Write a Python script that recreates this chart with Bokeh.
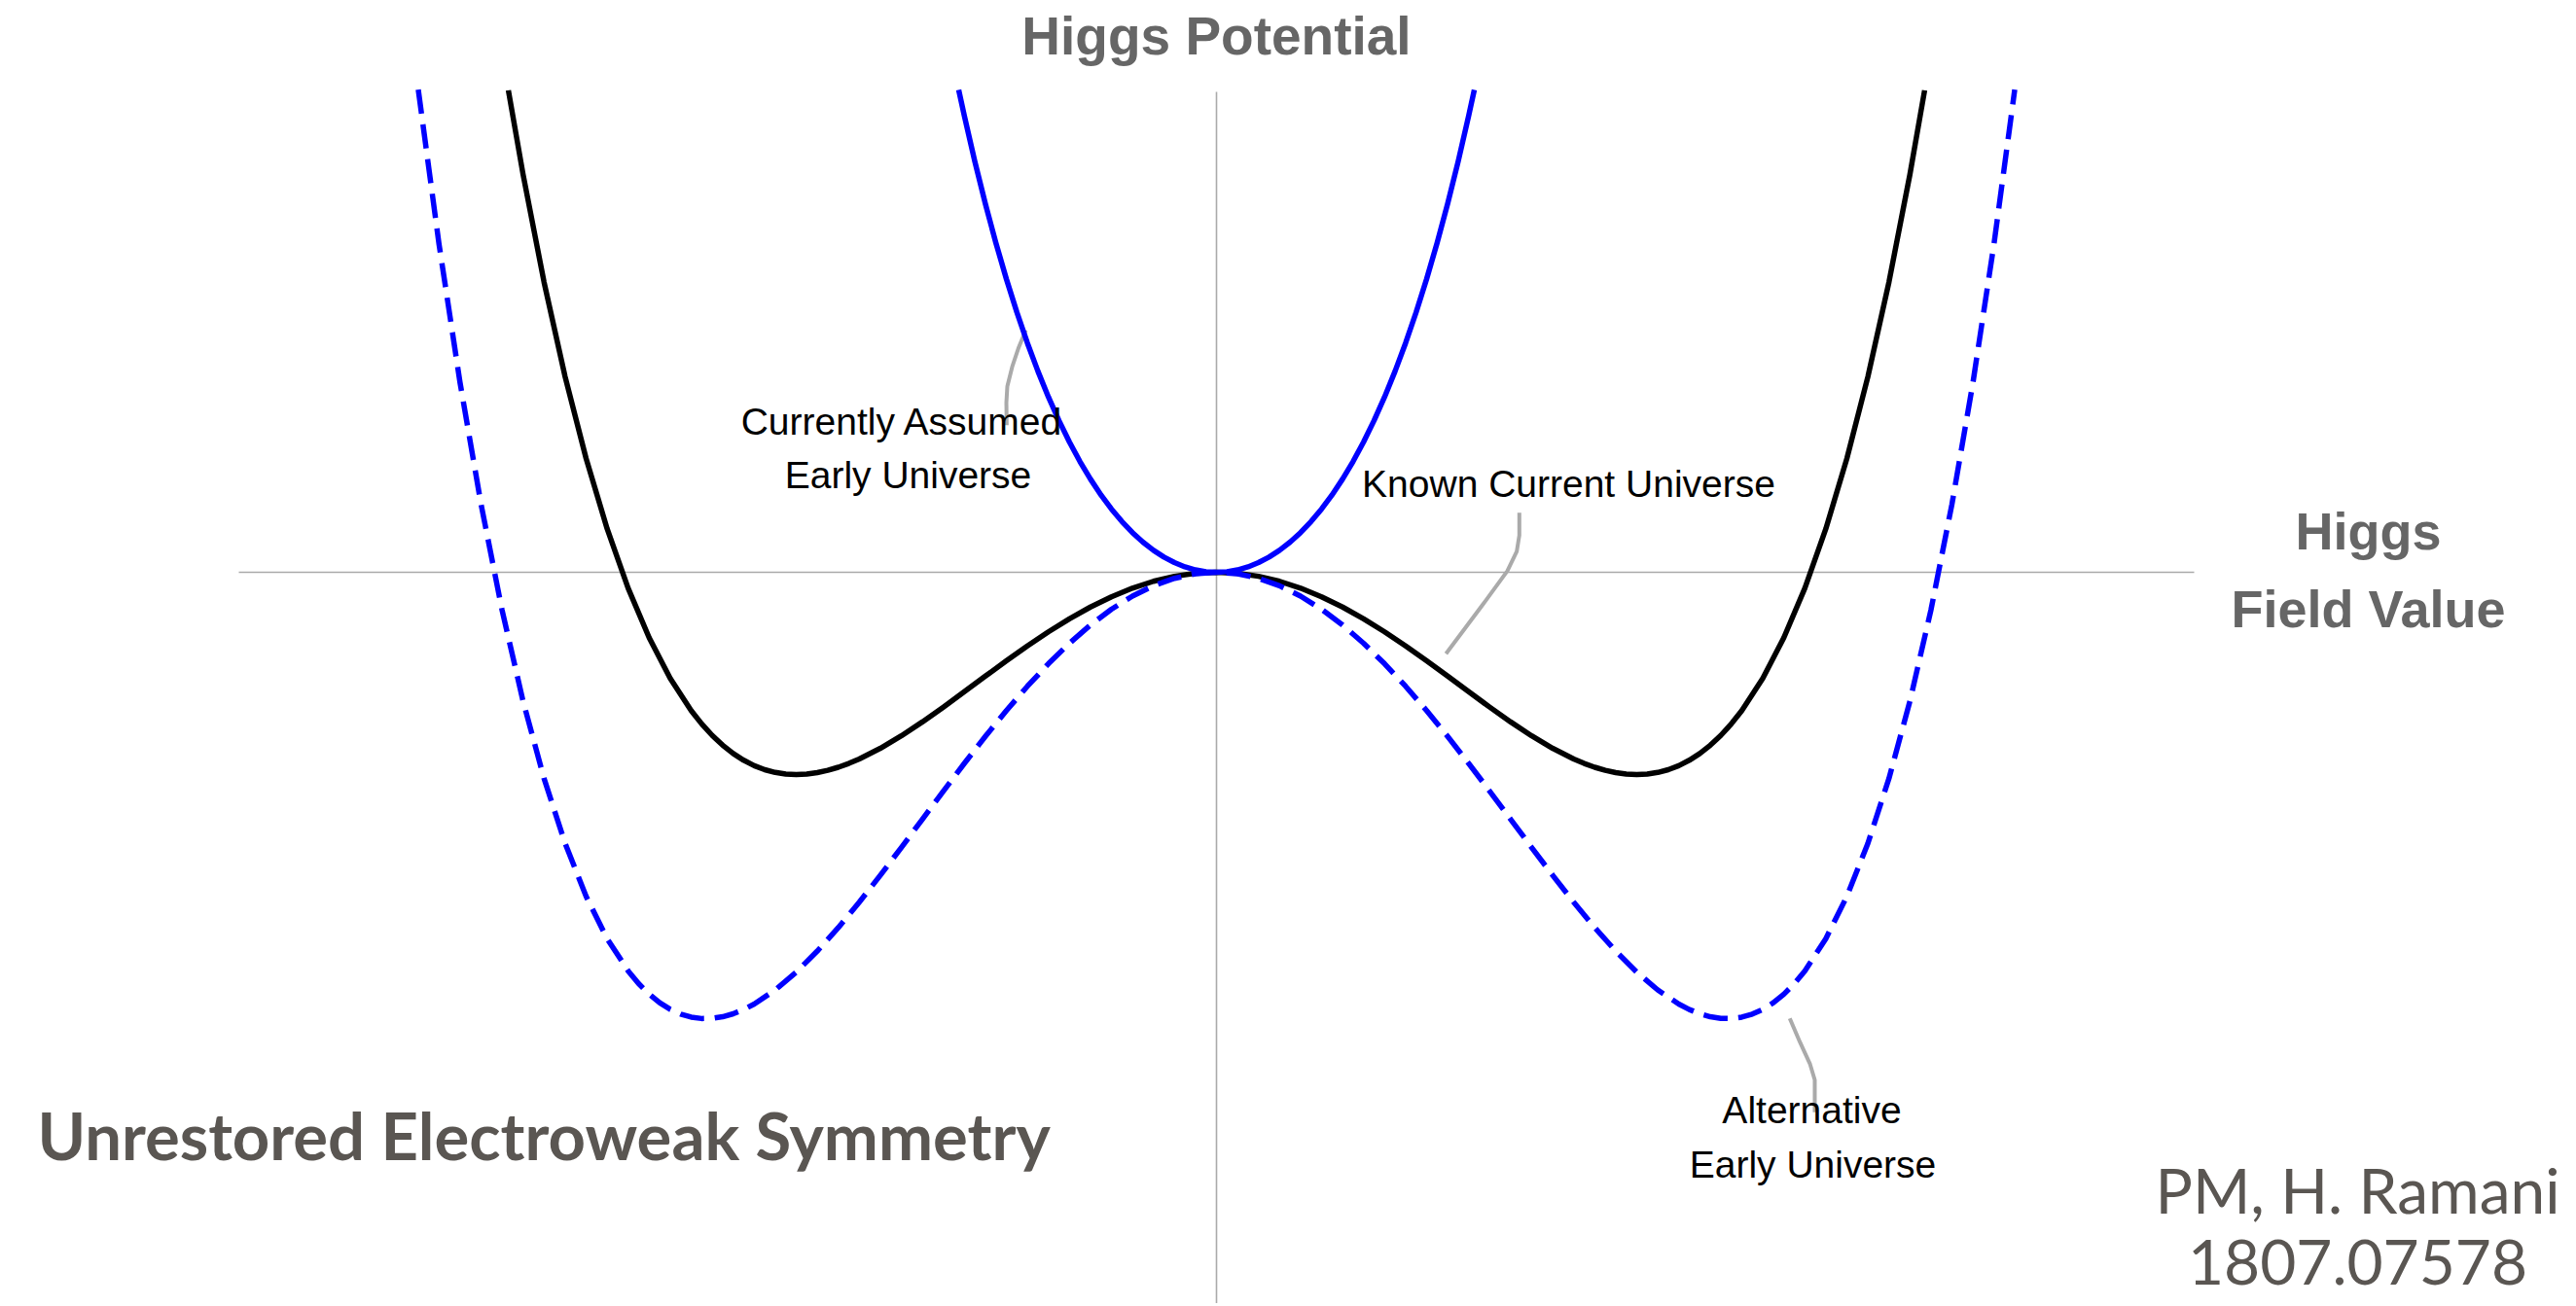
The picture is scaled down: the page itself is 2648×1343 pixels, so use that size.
from bokeh.plotting import figure
from bokeh.models import Range1d, Label
from bokeh.embed import file_html
from bokeh.resources import INLINE

# ---------------- data ----------------
# Field value (x) and potential (V), right half; the potentials are symmetric.
field_current = [0.0, 0.05, 0.10, 0.15, 0.20, 0.25, 0.30, 0.35, 0.40, 0.45, 0.50, 0.55,
                 0.60, 0.65, 0.70, 0.75, 0.80, 0.85, 0.875, 0.90, 0.925, 0.95, 0.975,
                 1.00, 1.025, 1.05, 1.075, 1.10, 1.125, 1.15, 1.175, 1.20, 1.225, 1.25,
                 1.30, 1.35, 1.40, 1.45, 1.50, 1.55, 1.60, 1.65, 1.685]
v_current = [0.0, -0.005, -0.0199, -0.0445, -0.0784, -0.1211, -0.1719, -0.2300, -0.2944,
             -0.3640, -0.4375, -0.5135, -0.5904, -0.6665, -0.7399, -0.8086, -0.8704,
             -0.9230, -0.9451, -0.9639, -0.9792, -0.9905, -0.9976, -1.0, -0.9974,
             -0.9895, -0.9758, -0.9559, -0.9294, -0.8960, -0.8551, -0.8064, -0.7494,
             -0.6836, -0.5239, -0.3235, -0.0784, 0.2155, 0.5625, 0.9670, 1.4336,
             1.9670, 2.3828]

field_alternative = [0.0, 0.05, 0.10, 0.15, 0.20, 0.25, 0.30, 0.35, 0.40, 0.45, 0.50,
                     0.55, 0.60, 0.65, 0.70, 0.75, 0.80, 0.85, 0.90, 0.95, 1.00, 1.05,
                     1.10, 1.125, 1.15, 1.175, 1.20, 1.225, 1.25, 1.275, 1.30, 1.325,
                     1.35, 1.375, 1.40, 1.45, 1.50, 1.55, 1.60, 1.65, 1.70, 1.75, 1.80,
                     1.85, 1.8994]
v_alternative = [0.0, -0.0075, -0.0298, -0.0667, -0.1179, -0.1828, -0.2607, -0.3509,
                 -0.4522, -0.5636, -0.6838, -0.8114, -0.9447, -1.0819, -1.2213, -1.3608,
                 -1.4981, -1.6309, -1.7567, -1.8729, -1.9766, -2.0649, -2.1346, -2.1615,
                 -2.1826, -2.1973, -2.2054, -2.2062, -2.1993, -2.1844, -2.1608, -2.1282,
                 -2.0860, -2.0336, -1.9707, -1.8109, -1.6022, -1.3402, -1.0202, -0.6374,
                 -0.1869, 0.3363, 0.9376, 1.6223, 2.3860]

field_assumed = [0.0, 0.025, 0.05, 0.075, 0.10, 0.125, 0.15, 0.175, 0.20, 0.225, 0.25,
                 0.275, 0.30, 0.325, 0.35, 0.375, 0.40, 0.425, 0.45, 0.475, 0.50, 0.525,
                 0.55, 0.575, 0.60, 0.6135]
v_assumed = [0.0, 0.0030, 0.0119, 0.0268, 0.0478, 0.0751, 0.1088, 0.1491, 0.1963, 0.2508,
             0.3128, 0.3826, 0.4609, 0.5479, 0.6442, 0.7504, 0.8669, 0.9945, 1.1337,
             1.2854, 1.4501, 1.6288, 1.8221, 2.0310, 2.2564, 2.3853]

# leader lines from the labels to the curves
leader_assumed_x = [-0.4537, -0.4706, -0.4861, -0.4977, -0.5000, -0.4993]
leader_assumed_v = [1.1971, 1.1120, 1.0159, 0.9197, 0.8399, 0.7274]
leader_current_x = [0.7206, 0.7206, 0.7144, 0.6921, 0.6301, 0.5461]
leader_current_v = [0.2947, 0.1827, 0.1024, 0.0063, -0.1697, -0.4024]
leader_alt_x = [1.3641, 1.3889, 1.4120, 1.4236, 1.4236, 1.4236]
leader_alt_v = [-2.2053, -2.3255, -2.4293, -2.5096, -2.6216, -2.6697]

# ---------------- layout helpers ----------------
W, H = 2640, 1340
OFF = 0
CX, CY, SX, SY = 1250.0, 588.0, 432.0, 208.0   # page px of origin, px per unit


def px2x(X):
    return (X - CX) / SX


def px2y(Y):
    return (CY - Y) / SY


def mirror(xs, vs):
    return [-x for x in xs[::-1]] + xs[1:], vs[::-1] + vs[1:]


p = figure(width=W, height=H, output_backend="svg", toolbar_location=None,
           x_range=Range1d(px2x(OFF), px2x(OFF + W)),
           y_range=Range1d(px2y(OFF + H), px2y(OFF)),
           x_axis_location=None, y_axis_location=None,
           min_border=0, outline_line_color=None,
           background_fill_color="white", border_fill_color="white")
p.grid.visible = False

AXIS = "#aaaaaa"
# axes through the origin
p.segment(x0=[px2x(245)], y0=[0], x1=[px2x(2255)], y1=[0], line_color=AXIS, line_width=1.6)
p.segment(x0=[0], y0=[px2y(94)], x1=[0], y1=[px2y(1400)], line_color=AXIS, line_width=1.6)

# leader lines
for lx, lv in [(leader_assumed_x, leader_assumed_v), (leader_current_x, leader_current_v),
               (leader_alt_x, leader_alt_v)]:
    p.line(lx, lv, line_color="#aaaaaa", line_width=4, line_join="round")

# curves
xc, vc = mirror(field_current, v_current)
p.line(xc, vc, line_color="black", line_width=5.5, line_join="round")
xa, va = mirror(field_alternative, v_alternative)
p.line(xa, va, line_color="#0000ff", line_width=5.5, line_dash="25 11", line_join="round")
xe, ve = mirror(field_assumed, v_assumed)
p.line(xe, ve, line_color="#0000ff", line_width=5.5, line_join="round")


def label(X, Y, text, size, color, font="Liberation Sans", style="normal", align="center", k=0.355):
    # Y is the wanted baseline in page pixels; k corrects the renderer's baseline offset
    p.add_layout(Label(x=px2x(X), y=px2y(Y - k * size), text=text, text_align=align,
                       text_baseline="alphabetic", text_font=font,
                       text_font_size=f"{size}px", text_font_style=style,
                       text_color=color))


GRAY = "#666666"
label(1250, 56, "Higgs Potential", 55, GRAY, style="bold")
label(2434, 565, "Higgs", 54, GRAY, style="bold")
label(2434, 645, "Field Value", 54, GRAY, style="bold")

label(927, 447, "Currently Assumed", 39, "black")
label(933, 502, "Early Universe", 39, "black")
label(1612, 511, "Known Current Universe", 39, "black")
label(1862, 1155, "Alternative", 39, "black")
label(1863, 1211, "Early Universe", 39, "black")

BROWN = "#5a5652"
label(38, 1194, "Unrestored Electroweak Symmetry", 67, BROWN, font="Lato", style="bold",
      align="left", k=0.41)
label(2423, 1249, "PM, H. Ramani", 64, BROWN, font="Lato", k=0.41)
label(2423, 1324, "1807.07578", 64, BROWN, font="Lato", k=0.41)

open("out.html", "w").write(file_html(p, INLINE))
